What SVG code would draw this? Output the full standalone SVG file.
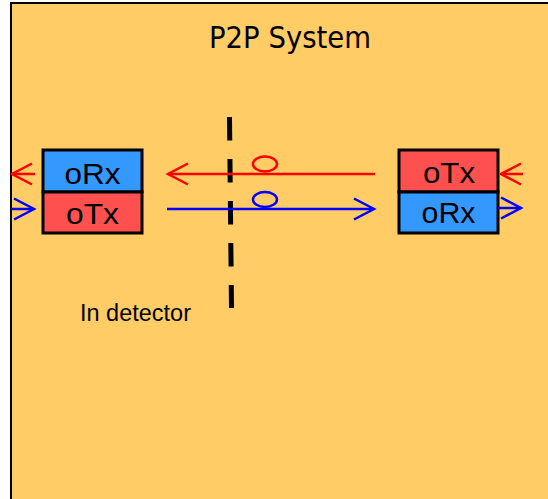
<svg xmlns="http://www.w3.org/2000/svg" width="548" height="499" viewBox="0 0 548 499">
<style>
.t{font-family:"Liberation Sans",Arial,sans-serif;fill:#000}
.h{font-family:"DejaVu Sans","Liberation Sans",sans-serif;fill:#000}
.box{stroke:#000;stroke-width:3}
.rx{fill:#3399FF}
.tx{fill:#FF5050}
.r{stroke:#FF0000;stroke-width:2.5;fill:none}
.b{stroke:#0000FF;stroke-width:2.5;fill:none}
</style>
<defs>
<marker id="ar" markerUnits="userSpaceOnUse" viewBox="-22 -12 24 24" refX="0" refY="0" markerWidth="24" markerHeight="24" orient="auto" overflow="visible">
<path d="M-20,-10.5 L0,0 L-20,10.5" fill="none" stroke="#FF0000" stroke-width="2.5"/>
</marker>
<marker id="ab" markerUnits="userSpaceOnUse" viewBox="-22 -12 24 24" refX="0" refY="0" markerWidth="24" markerHeight="24" orient="auto" overflow="visible">
<path d="M-20,-10.5 L0,0 L-20,10.5" fill="none" stroke="#0000FF" stroke-width="2.5"/>
</marker>
</defs>
<rect width="548" height="499" fill="#fff"/>
<g id="system">
<rect x="11" y="3" width="600" height="600" fill="#FFCC66" stroke="#000" stroke-width="2"/>
<text class="h" x="290" y="48" font-size="30" text-anchor="middle" textLength="162" lengthAdjust="spacingAndGlyphs">P2P System</text>
</g>
<g id="detector">
<line x1="229.5" y1="117" x2="231.5" y2="308" stroke="#000" stroke-width="5" stroke-dasharray="23.5 18.5"/>
<text class="t" x="80" y="321" font-size="23" textLength="111" lengthAdjust="spacingAndGlyphs">In detector</text>
</g>
<g id="left-node">
<rect class="box rx" x="43" y="150" width="99" height="42"/>
<rect class="box tx" x="43" y="192" width="99" height="41"/>
<text class="t" x="92.5" y="184" font-size="30" text-anchor="middle" textLength="56" lengthAdjust="spacingAndGlyphs">oRx</text>
<text class="t" x="92.5" y="224" font-size="30" text-anchor="middle" textLength="53" lengthAdjust="spacingAndGlyphs">oTx</text>
</g>
<g id="right-node">
<rect class="box tx" x="399" y="150" width="99" height="42"/>
<rect class="box rx" x="399" y="192" width="99" height="41"/>
<text class="t" x="449" y="183" font-size="30" text-anchor="middle" textLength="52" lengthAdjust="spacingAndGlyphs">oTx</text>
<text class="t" x="448.5" y="223" font-size="30" text-anchor="middle" textLength="54" lengthAdjust="spacingAndGlyphs">oRx</text>
</g>
<g id="connectors">
<line class="r" x1="375" y1="174" x2="168" y2="174" marker-end="url(#ar)"/>
<line class="b" x1="167" y1="209" x2="374" y2="209" marker-end="url(#ab)"/>
<line class="r" x1="35" y1="174" x2="12" y2="174" marker-end="url(#ar)"/>
<line class="b" x1="11" y1="209" x2="34" y2="209" marker-end="url(#ab)"/>
<line class="r" x1="523" y1="174" x2="501" y2="174" marker-end="url(#ar)"/>
<line class="b" x1="498" y1="208" x2="521" y2="208" marker-end="url(#ab)"/>
<ellipse class="r" cx="265" cy="164" rx="12" ry="7.5"/>
<ellipse class="b" cx="265" cy="199.5" rx="12" ry="7.5"/>
</g>
</svg>
